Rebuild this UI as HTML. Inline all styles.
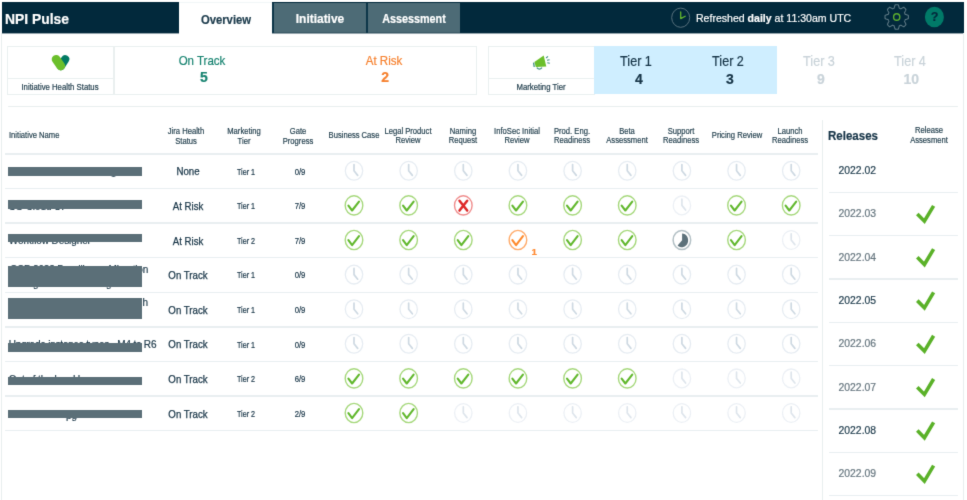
<!DOCTYPE html>
<html><head><meta charset="utf-8"><title>NPI Pulse</title>
<style>
html,body{margin:0;padding:0;background:#fff;}
body{width:967px;height:500px;position:relative;overflow:hidden;font-family:"Liberation Sans",sans-serif;color:#1e3a4a;-webkit-text-stroke-width:0.2px;}
.a{position:absolute;}
.t{position:absolute;white-space:nowrap;transform:translate(-50%,-50%);text-align:center;}
.tl{position:absolute;white-space:nowrap;transform:translate(0,-50%);transform-origin:left center;}
.ln{position:absolute;background:#e9eff1;}
.hd{font-size:8.4px;line-height:9.3px;color:#24414f;-webkit-text-stroke:0.18px #24414f;}
.t.hd{transform:translate(-50%,-50%) scaleX(.91);}
.tl.hd{transform:translate(0,-50%) scaleX(.91);}
.hd.w{line-height:10.5px;}
.hd.r{line-height:10px;}
.bar{position:absolute;background:#5b6f78;}
.nm{position:absolute;white-space:nowrap;font-size:10px;color:#223d4d;line-height:11px;letter-spacing:-0.1px;}
svg{position:absolute;overflow:visible;}
#w{position:absolute;left:0;top:0;width:967px;height:500px;filter:url(#bl);will-change:transform,opacity;opacity:.999;}
</style></head><body><svg width="0" height="0" style="position:absolute"><defs><filter id="bl" x="0" y="0" width="100%" height="100%" color-interpolation-filters="sRGB"><feConvolveMatrix order="3" kernelMatrix="0.0113 0.0838 0.0113 0.0838 0.6192 0.0838 0.0113 0.0838 0.0113" divisor="1" edgeMode="duplicate" preserveAlpha="false"/></filter></defs></svg><div id="w">

<div class="a" style="left:2px;top:2.2px;width:962px;height:31px;background:#02293c;"></div>
<div class="tl" style="left:5px;top:17.9px;font-size:15px;font-weight:bold;color:#fff;transform:translate(0,-50%) scaleX(.925);">NPI Pulse</div>
<div class="a" style="left:2px;top:33px;width:962px;height:1px;background:rgba(2,41,60,.42);"></div>
<div class="a" style="left:179px;top:0;width:93px;height:33.5px;background:#fff;"></div><div class="a" style="left:179px;top:1.8px;width:93px;height:1px;background:#f1f6f7;"></div>
<div class="t" style="left:225.5px;top:19.7px;font-size:12px;font-weight:bold;color:#1d3c4d;transform:translate(-50%,-50%) scaleX(.94);">Overview</div>
<div class="a" style="left:272px;top:2.5px;width:188px;height:30.5px;background:#4d6b76;"></div>
<div class="a" style="left:272px;top:31.8px;width:188px;height:1.2px;background:#3a5965;"></div>
<div class="a" style="left:272px;top:2.5px;width:1.6px;height:30.5px;background:#0d3649;"></div>
<div class="a" style="left:366px;top:2.5px;width:2px;height:30.5px;background:#0d3649;"></div>
<div class="t" style="left:320px;top:18.6px;font-size:12px;font-weight:bold;color:#fff;transform:translate(-50%,-50%) scaleX(.995);">Initiative</div>
<div class="t" style="left:413.8px;top:18.6px;font-size:12px;font-weight:bold;color:#fff;transform:translate(-50%,-50%) scaleX(.9);">Assessment</div>
<svg style="left:668px;top:5px" width="26" height="26" viewBox="0 0 26 26"><ellipse cx="12.7" cy="12.7" rx="9" ry="9.6" fill="none" stroke="#566f7b" stroke-width="1"/><path d="M12.7 6.9V13.6L17.2 11.2" fill="none" stroke="#62b52f" stroke-width="1.3" stroke-linecap="round" stroke-linejoin="round"/></svg>
<div class="tl" style="left:695.6px;top:17.3px;font-size:11.6px;color:#fff;transform:translate(0,-50%) scaleX(.91);">Refreshed <b>daily</b> at 11:30am UTC</div>
<svg style="left:0;top:0" width="967" height="40" viewBox="0 0 967 40"><path d="M896.70 4.71 L896.88 4.72 L897.07 4.72 L897.25 4.73 L897.43 4.74 L897.62 4.75 L897.80 4.77 L897.98 4.79 L898.17 4.81 L898.31 5.09 L898.45 5.40 L898.57 5.72 L898.69 6.05 L898.79 6.39 L898.89 6.72 L898.98 7.04 L899.06 7.36 L899.13 7.66 L899.21 7.94 L899.29 8.17 L899.42 8.21 L899.55 8.26 L899.68 8.31 L899.81 8.36 L899.94 8.41 L900.07 8.46 L900.19 8.52 L900.32 8.58 L900.45 8.64 L900.57 8.70 L900.70 8.77 L900.82 8.83 L901.03 8.73 L901.27 8.59 L901.53 8.43 L901.79 8.27 L902.08 8.11 L902.37 7.94 L902.67 7.78 L902.97 7.63 L903.27 7.50 L903.58 7.38 L903.87 7.29 L904.02 7.41 L904.16 7.53 L904.30 7.66 L904.44 7.78 L904.57 7.91 L904.71 8.04 L904.84 8.18 L904.97 8.31 L905.10 8.45 L905.23 8.59 L905.35 8.73 L905.48 8.88 L905.60 9.02 L905.72 9.17 L905.83 9.32 L905.94 9.47 L905.86 9.78 L905.75 10.10 L905.62 10.42 L905.48 10.74 L905.33 11.05 L905.17 11.36 L905.01 11.65 L904.86 11.93 L904.71 12.20 L904.58 12.45 L904.48 12.68 L904.54 12.81 L904.60 12.93 L904.66 13.07 L904.72 13.20 L904.78 13.33 L904.83 13.46 L904.88 13.60 L904.93 13.73 L904.98 13.87 L905.03 14.01 L905.07 14.14 L905.11 14.28 L905.33 14.37 L905.60 14.44 L905.88 14.52 L906.18 14.61 L906.49 14.70 L906.81 14.80 L907.13 14.91 L907.44 15.03 L907.75 15.16 L908.04 15.31 L908.31 15.46 L908.33 15.65 L908.35 15.84 L908.36 16.04 L908.38 16.23 L908.39 16.42 L908.39 16.61 L908.40 16.81 L908.40 17.00 L908.40 17.19 L908.39 17.39 L908.39 17.58 L908.38 17.77 L908.36 17.96 L908.35 18.16 L908.33 18.35 L908.31 18.54 L908.04 18.69 L907.75 18.84 L907.44 18.97 L907.13 19.09 L906.81 19.20 L906.49 19.30 L906.18 19.39 L905.88 19.48 L905.60 19.56 L905.33 19.63 L905.11 19.72 L905.07 19.86 L905.03 19.99 L904.98 20.13 L904.93 20.27 L904.88 20.40 L904.83 20.54 L904.78 20.67 L904.72 20.80 L904.66 20.93 L904.60 21.07 L904.54 21.19 L904.48 21.32 L904.58 21.55 L904.71 21.80 L904.86 22.07 L905.01 22.35 L905.17 22.64 L905.33 22.95 L905.48 23.26 L905.62 23.58 L905.75 23.90 L905.86 24.22 L905.94 24.53 L905.83 24.68 L905.72 24.83 L905.60 24.98 L905.48 25.12 L905.35 25.27 L905.23 25.41 L905.10 25.55 L904.97 25.69 L904.84 25.82 L904.71 25.96 L904.57 26.09 L904.44 26.22 L904.30 26.34 L904.16 26.47 L904.02 26.59 L903.87 26.71 L903.58 26.62 L903.27 26.50 L902.97 26.37 L902.67 26.22 L902.37 26.06 L902.08 25.89 L901.79 25.73 L901.53 25.57 L901.27 25.41 L901.03 25.27 L900.82 25.17 L900.70 25.23 L900.57 25.30 L900.45 25.36 L900.32 25.42 L900.19 25.48 L900.07 25.54 L899.94 25.59 L899.81 25.64 L899.68 25.69 L899.55 25.74 L899.42 25.79 L899.29 25.83 L899.21 26.06 L899.13 26.34 L899.06 26.64 L898.98 26.96 L898.89 27.28 L898.79 27.61 L898.69 27.95 L898.57 28.28 L898.45 28.60 L898.31 28.91 L898.17 29.19 L897.98 29.21 L897.80 29.23 L897.62 29.25 L897.43 29.26 L897.25 29.27 L897.07 29.28 L896.88 29.28 L896.70 29.29 L896.52 29.28 L896.33 29.28 L896.15 29.27 L895.97 29.26 L895.78 29.25 L895.60 29.23 L895.42 29.21 L895.23 29.19 L895.09 28.91 L894.95 28.60 L894.83 28.28 L894.71 27.95 L894.61 27.61 L894.51 27.28 L894.42 26.96 L894.34 26.64 L894.27 26.34 L894.19 26.06 L894.11 25.83 L893.98 25.79 L893.85 25.74 L893.72 25.69 L893.59 25.64 L893.46 25.59 L893.33 25.54 L893.21 25.48 L893.08 25.42 L892.95 25.36 L892.83 25.30 L892.70 25.23 L892.58 25.17 L892.37 25.27 L892.13 25.41 L891.87 25.57 L891.61 25.73 L891.32 25.89 L891.03 26.06 L890.73 26.22 L890.43 26.37 L890.13 26.50 L889.82 26.62 L889.53 26.71 L889.38 26.59 L889.24 26.47 L889.10 26.34 L888.96 26.22 L888.83 26.09 L888.69 25.96 L888.56 25.82 L888.43 25.69 L888.30 25.55 L888.17 25.41 L888.05 25.27 L887.92 25.12 L887.80 24.98 L887.68 24.83 L887.57 24.68 L887.46 24.53 L887.54 24.22 L887.65 23.90 L887.78 23.58 L887.92 23.26 L888.07 22.95 L888.23 22.64 L888.39 22.35 L888.54 22.07 L888.69 21.80 L888.82 21.55 L888.92 21.32 L888.86 21.19 L888.80 21.07 L888.74 20.93 L888.68 20.80 L888.62 20.67 L888.57 20.54 L888.52 20.40 L888.47 20.27 L888.42 20.13 L888.37 19.99 L888.33 19.86 L888.29 19.72 L888.07 19.63 L887.80 19.56 L887.52 19.48 L887.22 19.39 L886.91 19.30 L886.59 19.20 L886.27 19.09 L885.96 18.97 L885.65 18.84 L885.36 18.69 L885.09 18.54 L885.07 18.35 L885.05 18.16 L885.04 17.96 L885.02 17.77 L885.01 17.58 L885.01 17.39 L885.00 17.19 L885.00 17.00 L885.00 16.81 L885.01 16.61 L885.01 16.42 L885.02 16.23 L885.04 16.04 L885.05 15.84 L885.07 15.65 L885.09 15.46 L885.36 15.31 L885.65 15.16 L885.96 15.03 L886.27 14.91 L886.59 14.80 L886.91 14.70 L887.22 14.61 L887.52 14.52 L887.80 14.44 L888.07 14.37 L888.29 14.28 L888.33 14.14 L888.37 14.01 L888.42 13.87 L888.47 13.73 L888.52 13.60 L888.57 13.46 L888.62 13.33 L888.68 13.20 L888.74 13.07 L888.80 12.93 L888.86 12.81 L888.92 12.68 L888.82 12.45 L888.69 12.20 L888.54 11.93 L888.39 11.65 L888.23 11.36 L888.07 11.05 L887.92 10.74 L887.78 10.42 L887.65 10.10 L887.54 9.78 L887.46 9.47 L887.57 9.32 L887.68 9.17 L887.80 9.02 L887.92 8.88 L888.05 8.73 L888.17 8.59 L888.30 8.45 L888.43 8.31 L888.56 8.18 L888.69 8.04 L888.83 7.91 L888.96 7.78 L889.10 7.66 L889.24 7.53 L889.38 7.41 L889.53 7.29 L889.82 7.38 L890.13 7.50 L890.43 7.63 L890.73 7.78 L891.03 7.94 L891.32 8.11 L891.61 8.27 L891.87 8.43 L892.13 8.59 L892.37 8.73 L892.58 8.83 L892.70 8.77 L892.83 8.70 L892.95 8.64 L893.08 8.58 L893.21 8.52 L893.33 8.46 L893.46 8.41 L893.59 8.36 L893.72 8.31 L893.85 8.26 L893.98 8.21 L894.11 8.17 L894.19 7.94 L894.27 7.66 L894.34 7.36 L894.42 7.04 L894.51 6.72 L894.61 6.39 L894.71 6.05 L894.83 5.72 L894.95 5.40 L895.09 5.09 L895.23 4.81 L895.42 4.79 L895.60 4.77 L895.78 4.75 L895.97 4.74 L896.15 4.73 L896.33 4.72 L896.52 4.72 L896.70 4.71Z" fill="none" stroke="#5d7884" stroke-width="1.1" stroke-linejoin="round"/><ellipse cx="896.7" cy="17.0" rx="3.1" ry="3.3" fill="none" stroke="#5cae2e" stroke-width="1.4"/><ellipse cx="934.4" cy="17.0" rx="9.5" ry="10.3" fill="#017a68"/></svg>
<div class="t" style="left:934.5px;top:17.4px;font-size:12.5px;font-weight:bold;color:#02293c;">?</div>
<div class="ln" style="left:1px;top:33px;width:1.2px;height:467px;background:#e9efef;"></div>
<div class="ln" style="left:963px;top:33px;width:1.2px;height:467px;background:#e9efef;"></div>
<div class="a" style="left:7.2px;top:45.8px;width:470.2px;height:48.8px;border:1.2px solid #eaf0f0;box-sizing:border-box;"></div>
<div class="ln" style="left:113.4px;top:46px;width:1.2px;height:48px;background:#eaf0f0;"></div>
<div class="ln" style="left:7.5px;top:78.2px;width:106px;height:1.2px;background:#eaf0f0;"></div>
<div class="a" style="left:488px;top:45.8px;width:107px;height:48.8px;border:1.2px solid #eaf0f0;box-sizing:border-box;"></div>
<div class="ln" style="left:488.3px;top:78.2px;width:106px;height:1.2px;background:#eaf0f0;"></div>
<div class="a" style="left:594.2px;top:45.8px;width:182.6px;height:48.6px;background:#cfeeff;"></div>
<svg style="left:0;top:0" width="967" height="110" viewBox="0 0 967 110"><path d="M65.2 59.2L60.9 66" stroke="#017a64" stroke-width="8.2" stroke-linecap="round" fill="none"/><path d="M56.1 59.3L60.8 66" stroke="#6bbf2b" stroke-width="8.8" stroke-linecap="round" fill="none"/><path d="M534.4 62L543.7 55.5L546.3 66.6L535.8 66.9Z" fill="#6bbf2b"/><path d="M533.6 62.6L534.2 67" stroke="#3d8f80" stroke-width="1.3" fill="none"/><path d="M536.8 67.6Q539.4 70.6 542 67.6" stroke="#3d8f80" stroke-width="1.3" fill="none"/><path d="M546.1 58L548 56.4M547 60.3L549.6 59.8M547.3 62.7L549.8 63.3" stroke="#3d8f80" stroke-width="1.1" fill="none"/></svg>
<div class="t" style="left:60.4px;top:86.5px;font-size:8.4px;color:#24404f;transform:translate(-50%,-50%) scaleX(.925);">Initiative Health Status</div>
<div class="t" style="left:541.4px;top:86.5px;font-size:8.4px;color:#24404f;transform:translate(-50%,-50%) scaleX(.925);">Marketing Tier</div>
<div class="t" style="left:201.6px;top:59.6px;font-size:12.8px;color:#178370;transform:translate(-50%,-50%) scaleX(0.9);">On Track</div>
<div class="t" style="left:204px;top:76.9px;font-size:14px;font-weight:bold;color:#178370;">5</div>
<div class="t" style="left:384px;top:59.6px;font-size:12.8px;color:#f6812f;transform:translate(-50%,-50%) scaleX(0.9);">At Risk</div>
<div class="t" style="left:385.2px;top:76.9px;font-size:14px;font-weight:bold;color:#f6812f;">2</div>
<div class="t" style="left:636.3px;top:60.9px;font-size:14px;color:#163447;transform:translate(-50%,-50%) scaleX(0.9);">Tier 1</div>
<div class="t" style="left:639px;top:78.9px;font-size:14px;font-weight:bold;color:#163447;">4</div>
<div class="t" style="left:728.3px;top:60.9px;font-size:14px;color:#163447;transform:translate(-50%,-50%) scaleX(0.9);">Tier 2</div>
<div class="t" style="left:730px;top:78.9px;font-size:14px;font-weight:bold;color:#163447;">3</div>
<div class="t" style="left:818.9px;top:60.9px;font-size:14px;color:#c9d3d9;transform:translate(-50%,-50%) scaleX(0.9);">Tier 3</div>
<div class="t" style="left:820.8px;top:78.9px;font-size:14px;font-weight:bold;color:#c9d3d9;">9</div>
<div class="t" style="left:909.9px;top:60.9px;font-size:14px;color:#c9d3d9;transform:translate(-50%,-50%) scaleX(0.9);">Tier 4</div>
<div class="t" style="left:911.2px;top:78.9px;font-size:14px;font-weight:bold;color:#c9d3d9;">10</div>
<div class="ln" style="left:7.6px;top:106px;width:950.4px;height:1.3px;background:#e9efef;"></div>
<div class="tl hd" style="left:8.8px;top:136.1px;">Initiative Name</div>
<div class="t hd w" style="left:186px;top:135.7px;">Jira Health<br>Status</div>
<div class="t hd w" style="left:244px;top:135.7px;">Marketing<br>Tier</div>
<div class="t hd w" style="left:298px;top:135.7px;">Gate<br>Progress</div>
<div class="t hd" style="left:353.8px;top:135.7px;">Business Case</div>
<div class="t hd" style="left:408.2px;top:135.7px;">Legal Product<br>Review</div>
<div class="t hd" style="left:462.7px;top:135.7px;">Naming<br>Request</div>
<div class="t hd" style="left:517px;top:135.7px;">InfoSec Initial<br>Review</div>
<div class="t hd" style="left:572px;top:135.7px;">Prod. Eng.<br>Readiness</div>
<div class="t hd" style="left:627px;top:135.7px;">Beta<br>Assessment</div>
<div class="t hd" style="left:681.2px;top:135.7px;">Support<br>Readiness</div>
<div class="t hd" style="left:736.6px;top:135.7px;">Pricing Review</div>
<div class="t hd" style="left:790.2px;top:135.7px;">Launch<br>Readiness</div>
<div class="t hd r" style="left:929.3px;top:134.7px;">Release<br>Assesment</div>
<div class="ln" style="left:5px;top:153.15px;width:813px;height:1.5px;"></div>
<div class="ln" style="left:5px;top:187.75px;width:813px;height:1.5px;"></div>
<div class="ln" style="left:5px;top:222.35px;width:813px;height:1.5px;"></div>
<div class="ln" style="left:5px;top:256.95px;width:813px;height:1.5px;"></div>
<div class="ln" style="left:5px;top:291.55px;width:813px;height:1.5px;"></div>
<div class="ln" style="left:5px;top:326.15px;width:813px;height:1.5px;"></div>
<div class="ln" style="left:5px;top:360.75px;width:813px;height:1.5px;"></div>
<div class="ln" style="left:5px;top:395.35px;width:813px;height:1.5px;"></div>
<div class="ln" style="left:5px;top:429.95px;width:813px;height:1.5px;"></div>
<svg style="left:0;top:0" width="967" height="500" viewBox="0 0 967 500">
<g transform="translate(354.0 170.80)"><ellipse cx="0" cy="0" rx="8.7" ry="9.4" fill="none" stroke="#e6ecf2" stroke-width="1.3"/><path d="M0 -6.2V0L3.7 4.6" fill="none" stroke="#ced9e2" stroke-width="1.7" stroke-linecap="round" stroke-linejoin="round"/></g>
<g transform="translate(408.65 170.80)"><ellipse cx="0" cy="0" rx="8.7" ry="9.4" fill="none" stroke="#e6ecf2" stroke-width="1.3"/><path d="M0 -6.2V0L3.7 4.6" fill="none" stroke="#ced9e2" stroke-width="1.7" stroke-linecap="round" stroke-linejoin="round"/></g>
<g transform="translate(463.3 170.80)"><ellipse cx="0" cy="0" rx="8.7" ry="9.4" fill="none" stroke="#e6ecf2" stroke-width="1.3"/><path d="M0 -6.2V0L3.7 4.6" fill="none" stroke="#ced9e2" stroke-width="1.7" stroke-linecap="round" stroke-linejoin="round"/></g>
<g transform="translate(517.95 170.80)"><ellipse cx="0" cy="0" rx="8.7" ry="9.4" fill="none" stroke="#e6ecf2" stroke-width="1.3"/><path d="M0 -6.2V0L3.7 4.6" fill="none" stroke="#ced9e2" stroke-width="1.7" stroke-linecap="round" stroke-linejoin="round"/></g>
<g transform="translate(572.6 170.80)"><ellipse cx="0" cy="0" rx="8.7" ry="9.4" fill="none" stroke="#e6ecf2" stroke-width="1.3"/><path d="M0 -6.2V0L3.7 4.6" fill="none" stroke="#ced9e2" stroke-width="1.7" stroke-linecap="round" stroke-linejoin="round"/></g>
<g transform="translate(627.25 170.80)"><ellipse cx="0" cy="0" rx="8.7" ry="9.4" fill="none" stroke="#e6ecf2" stroke-width="1.3"/><path d="M0 -6.2V0L3.7 4.6" fill="none" stroke="#ced9e2" stroke-width="1.7" stroke-linecap="round" stroke-linejoin="round"/></g>
<g transform="translate(681.9 170.80)"><ellipse cx="0" cy="0" rx="8.7" ry="9.4" fill="none" stroke="#e6ecf2" stroke-width="1.3"/><path d="M0 -6.2V0L3.7 4.6" fill="none" stroke="#ced9e2" stroke-width="1.7" stroke-linecap="round" stroke-linejoin="round"/></g>
<g transform="translate(736.55 170.80)"><ellipse cx="0" cy="0" rx="8.7" ry="9.4" fill="none" stroke="#e6ecf2" stroke-width="1.3"/><path d="M0 -6.2V0L3.7 4.6" fill="none" stroke="#ced9e2" stroke-width="1.7" stroke-linecap="round" stroke-linejoin="round"/></g>
<g transform="translate(791.2 170.80)"><ellipse cx="0" cy="0" rx="8.7" ry="9.4" fill="none" stroke="#e6ecf2" stroke-width="1.3"/><path d="M0 -6.2V0L3.7 4.6" fill="none" stroke="#ced9e2" stroke-width="1.7" stroke-linecap="round" stroke-linejoin="round"/></g>
<g transform="translate(354.0 205.40)"><ellipse cx="0" cy="0" rx="8.8" ry="9.6" fill="none" stroke="#a6d87c" stroke-width="1.4"/><path d="M-5.6 0.2L-1.9 5.1L5 -3.8" fill="none" stroke="#62b82e" stroke-width="2.1" stroke-linecap="round" stroke-linejoin="round"/></g>
<g transform="translate(408.65 205.40)"><ellipse cx="0" cy="0" rx="8.8" ry="9.6" fill="none" stroke="#a6d87c" stroke-width="1.4"/><path d="M-5.6 0.2L-1.9 5.1L5 -3.8" fill="none" stroke="#62b82e" stroke-width="2.1" stroke-linecap="round" stroke-linejoin="round"/></g>
<g transform="translate(463.3 205.40)"><ellipse cx="0" cy="0" rx="8.8" ry="9.6" fill="none" stroke="#ef8d8d" stroke-width="1.4"/><path d="M-3.8 -4.7L3.9 5.2M3.9 -4.7L-3.8 5.2" fill="none" stroke="#de2a2a" stroke-width="2.5" stroke-linecap="round"/></g>
<g transform="translate(517.95 205.40)"><ellipse cx="0" cy="0" rx="8.8" ry="9.6" fill="none" stroke="#a6d87c" stroke-width="1.4"/><path d="M-5.6 0.2L-1.9 5.1L5 -3.8" fill="none" stroke="#62b82e" stroke-width="2.1" stroke-linecap="round" stroke-linejoin="round"/></g>
<g transform="translate(572.6 205.40)"><ellipse cx="0" cy="0" rx="8.8" ry="9.6" fill="none" stroke="#a6d87c" stroke-width="1.4"/><path d="M-5.6 0.2L-1.9 5.1L5 -3.8" fill="none" stroke="#62b82e" stroke-width="2.1" stroke-linecap="round" stroke-linejoin="round"/></g>
<g transform="translate(627.25 205.40)"><ellipse cx="0" cy="0" rx="8.8" ry="9.6" fill="none" stroke="#a6d87c" stroke-width="1.4"/><path d="M-5.6 0.2L-1.9 5.1L5 -3.8" fill="none" stroke="#62b82e" stroke-width="2.1" stroke-linecap="round" stroke-linejoin="round"/></g>
<g transform="translate(681.9 205.40)"><ellipse cx="0" cy="0" rx="8.7" ry="9.4" fill="none" stroke="#ecf0f5" stroke-width="1.3"/><path d="M0 -6.2V0L3.7 4.6" fill="none" stroke="#dee5ec" stroke-width="1.7" stroke-linecap="round" stroke-linejoin="round"/></g>
<g transform="translate(736.55 205.40)"><ellipse cx="0" cy="0" rx="8.8" ry="9.6" fill="none" stroke="#a6d87c" stroke-width="1.4"/><path d="M-5.6 0.2L-1.9 5.1L5 -3.8" fill="none" stroke="#62b82e" stroke-width="2.1" stroke-linecap="round" stroke-linejoin="round"/></g>
<g transform="translate(791.2 205.40)"><ellipse cx="0" cy="0" rx="8.8" ry="9.6" fill="none" stroke="#a6d87c" stroke-width="1.4"/><path d="M-5.6 0.2L-1.9 5.1L5 -3.8" fill="none" stroke="#62b82e" stroke-width="2.1" stroke-linecap="round" stroke-linejoin="round"/></g>
<g transform="translate(354.0 240.00)"><ellipse cx="0" cy="0" rx="8.8" ry="9.6" fill="none" stroke="#a6d87c" stroke-width="1.4"/><path d="M-5.6 0.2L-1.9 5.1L5 -3.8" fill="none" stroke="#62b82e" stroke-width="2.1" stroke-linecap="round" stroke-linejoin="round"/></g>
<g transform="translate(408.65 240.00)"><ellipse cx="0" cy="0" rx="8.8" ry="9.6" fill="none" stroke="#a6d87c" stroke-width="1.4"/><path d="M-5.6 0.2L-1.9 5.1L5 -3.8" fill="none" stroke="#62b82e" stroke-width="2.1" stroke-linecap="round" stroke-linejoin="round"/></g>
<g transform="translate(463.3 240.00)"><ellipse cx="0" cy="0" rx="8.8" ry="9.6" fill="none" stroke="#a6d87c" stroke-width="1.4"/><path d="M-5.6 0.2L-1.9 5.1L5 -3.8" fill="none" stroke="#62b82e" stroke-width="2.1" stroke-linecap="round" stroke-linejoin="round"/></g>
<g transform="translate(517.95 240.00)"><ellipse cx="0" cy="0" rx="8.8" ry="9.6" fill="none" stroke="#ffab6b" stroke-width="1.4"/><path d="M-5.6 0.2L-1.9 5.1L5 -3.8" fill="none" stroke="#ff8a2c" stroke-width="2.1" stroke-linecap="round" stroke-linejoin="round"/></g>
<g transform="translate(572.6 240.00)"><ellipse cx="0" cy="0" rx="8.8" ry="9.6" fill="none" stroke="#a6d87c" stroke-width="1.4"/><path d="M-5.6 0.2L-1.9 5.1L5 -3.8" fill="none" stroke="#62b82e" stroke-width="2.1" stroke-linecap="round" stroke-linejoin="round"/></g>
<g transform="translate(627.25 240.00)"><ellipse cx="0" cy="0" rx="8.8" ry="9.6" fill="none" stroke="#a6d87c" stroke-width="1.4"/><path d="M-5.6 0.2L-1.9 5.1L5 -3.8" fill="none" stroke="#62b82e" stroke-width="2.1" stroke-linecap="round" stroke-linejoin="round"/></g>
<g transform="translate(681.9 240.00)"><ellipse cx="0" cy="0" rx="8.8" ry="9.6" fill="none" stroke="#b3c0c5" stroke-width="1.5"/><path d="M0.2 0.3V-6.6A6.3 6.9 0 1 1 -4.3 5.4Z" fill="#5c717a"/></g>
<g transform="translate(736.55 240.00)"><ellipse cx="0" cy="0" rx="8.8" ry="9.6" fill="none" stroke="#a6d87c" stroke-width="1.4"/><path d="M-5.6 0.2L-1.9 5.1L5 -3.8" fill="none" stroke="#62b82e" stroke-width="2.1" stroke-linecap="round" stroke-linejoin="round"/></g>
<g transform="translate(791.2 240.00)"><ellipse cx="0" cy="0" rx="8.7" ry="9.4" fill="none" stroke="#ecf0f5" stroke-width="1.3"/><path d="M0 -6.2V0L3.7 4.6" fill="none" stroke="#dee5ec" stroke-width="1.7" stroke-linecap="round" stroke-linejoin="round"/></g>
<g transform="translate(354.0 274.60)"><ellipse cx="0" cy="0" rx="8.7" ry="9.4" fill="none" stroke="#e6ecf2" stroke-width="1.3"/><path d="M0 -6.2V0L3.7 4.6" fill="none" stroke="#ced9e2" stroke-width="1.7" stroke-linecap="round" stroke-linejoin="round"/></g>
<g transform="translate(408.65 274.60)"><ellipse cx="0" cy="0" rx="8.7" ry="9.4" fill="none" stroke="#e6ecf2" stroke-width="1.3"/><path d="M0 -6.2V0L3.7 4.6" fill="none" stroke="#ced9e2" stroke-width="1.7" stroke-linecap="round" stroke-linejoin="round"/></g>
<g transform="translate(463.3 274.60)"><ellipse cx="0" cy="0" rx="8.7" ry="9.4" fill="none" stroke="#e6ecf2" stroke-width="1.3"/><path d="M0 -6.2V0L3.7 4.6" fill="none" stroke="#ced9e2" stroke-width="1.7" stroke-linecap="round" stroke-linejoin="round"/></g>
<g transform="translate(517.95 274.60)"><ellipse cx="0" cy="0" rx="8.7" ry="9.4" fill="none" stroke="#e6ecf2" stroke-width="1.3"/><path d="M0 -6.2V0L3.7 4.6" fill="none" stroke="#ced9e2" stroke-width="1.7" stroke-linecap="round" stroke-linejoin="round"/></g>
<g transform="translate(572.6 274.60)"><ellipse cx="0" cy="0" rx="8.7" ry="9.4" fill="none" stroke="#e6ecf2" stroke-width="1.3"/><path d="M0 -6.2V0L3.7 4.6" fill="none" stroke="#ced9e2" stroke-width="1.7" stroke-linecap="round" stroke-linejoin="round"/></g>
<g transform="translate(627.25 274.60)"><ellipse cx="0" cy="0" rx="8.7" ry="9.4" fill="none" stroke="#e6ecf2" stroke-width="1.3"/><path d="M0 -6.2V0L3.7 4.6" fill="none" stroke="#ced9e2" stroke-width="1.7" stroke-linecap="round" stroke-linejoin="round"/></g>
<g transform="translate(681.9 274.60)"><ellipse cx="0" cy="0" rx="8.7" ry="9.4" fill="none" stroke="#e6ecf2" stroke-width="1.3"/><path d="M0 -6.2V0L3.7 4.6" fill="none" stroke="#ced9e2" stroke-width="1.7" stroke-linecap="round" stroke-linejoin="round"/></g>
<g transform="translate(736.55 274.60)"><ellipse cx="0" cy="0" rx="8.7" ry="9.4" fill="none" stroke="#e6ecf2" stroke-width="1.3"/><path d="M0 -6.2V0L3.7 4.6" fill="none" stroke="#ced9e2" stroke-width="1.7" stroke-linecap="round" stroke-linejoin="round"/></g>
<g transform="translate(791.2 274.60)"><ellipse cx="0" cy="0" rx="8.7" ry="9.4" fill="none" stroke="#e6ecf2" stroke-width="1.3"/><path d="M0 -6.2V0L3.7 4.6" fill="none" stroke="#ced9e2" stroke-width="1.7" stroke-linecap="round" stroke-linejoin="round"/></g>
<g transform="translate(354.0 309.20)"><ellipse cx="0" cy="0" rx="8.7" ry="9.4" fill="none" stroke="#e6ecf2" stroke-width="1.3"/><path d="M0 -6.2V0L3.7 4.6" fill="none" stroke="#ced9e2" stroke-width="1.7" stroke-linecap="round" stroke-linejoin="round"/></g>
<g transform="translate(408.65 309.20)"><ellipse cx="0" cy="0" rx="8.7" ry="9.4" fill="none" stroke="#e6ecf2" stroke-width="1.3"/><path d="M0 -6.2V0L3.7 4.6" fill="none" stroke="#ced9e2" stroke-width="1.7" stroke-linecap="round" stroke-linejoin="round"/></g>
<g transform="translate(463.3 309.20)"><ellipse cx="0" cy="0" rx="8.7" ry="9.4" fill="none" stroke="#e6ecf2" stroke-width="1.3"/><path d="M0 -6.2V0L3.7 4.6" fill="none" stroke="#ced9e2" stroke-width="1.7" stroke-linecap="round" stroke-linejoin="round"/></g>
<g transform="translate(517.95 309.20)"><ellipse cx="0" cy="0" rx="8.7" ry="9.4" fill="none" stroke="#e6ecf2" stroke-width="1.3"/><path d="M0 -6.2V0L3.7 4.6" fill="none" stroke="#ced9e2" stroke-width="1.7" stroke-linecap="round" stroke-linejoin="round"/></g>
<g transform="translate(572.6 309.20)"><ellipse cx="0" cy="0" rx="8.7" ry="9.4" fill="none" stroke="#e6ecf2" stroke-width="1.3"/><path d="M0 -6.2V0L3.7 4.6" fill="none" stroke="#ced9e2" stroke-width="1.7" stroke-linecap="round" stroke-linejoin="round"/></g>
<g transform="translate(627.25 309.20)"><ellipse cx="0" cy="0" rx="8.7" ry="9.4" fill="none" stroke="#e6ecf2" stroke-width="1.3"/><path d="M0 -6.2V0L3.7 4.6" fill="none" stroke="#ced9e2" stroke-width="1.7" stroke-linecap="round" stroke-linejoin="round"/></g>
<g transform="translate(681.9 309.20)"><ellipse cx="0" cy="0" rx="8.7" ry="9.4" fill="none" stroke="#e6ecf2" stroke-width="1.3"/><path d="M0 -6.2V0L3.7 4.6" fill="none" stroke="#ced9e2" stroke-width="1.7" stroke-linecap="round" stroke-linejoin="round"/></g>
<g transform="translate(736.55 309.20)"><ellipse cx="0" cy="0" rx="8.7" ry="9.4" fill="none" stroke="#e6ecf2" stroke-width="1.3"/><path d="M0 -6.2V0L3.7 4.6" fill="none" stroke="#ced9e2" stroke-width="1.7" stroke-linecap="round" stroke-linejoin="round"/></g>
<g transform="translate(791.2 309.20)"><ellipse cx="0" cy="0" rx="8.7" ry="9.4" fill="none" stroke="#e6ecf2" stroke-width="1.3"/><path d="M0 -6.2V0L3.7 4.6" fill="none" stroke="#ced9e2" stroke-width="1.7" stroke-linecap="round" stroke-linejoin="round"/></g>
<g transform="translate(354.0 343.80)"><ellipse cx="0" cy="0" rx="8.7" ry="9.4" fill="none" stroke="#e6ecf2" stroke-width="1.3"/><path d="M0 -6.2V0L3.7 4.6" fill="none" stroke="#ced9e2" stroke-width="1.7" stroke-linecap="round" stroke-linejoin="round"/></g>
<g transform="translate(408.65 343.80)"><ellipse cx="0" cy="0" rx="8.7" ry="9.4" fill="none" stroke="#e6ecf2" stroke-width="1.3"/><path d="M0 -6.2V0L3.7 4.6" fill="none" stroke="#ced9e2" stroke-width="1.7" stroke-linecap="round" stroke-linejoin="round"/></g>
<g transform="translate(463.3 343.80)"><ellipse cx="0" cy="0" rx="8.7" ry="9.4" fill="none" stroke="#e6ecf2" stroke-width="1.3"/><path d="M0 -6.2V0L3.7 4.6" fill="none" stroke="#ced9e2" stroke-width="1.7" stroke-linecap="round" stroke-linejoin="round"/></g>
<g transform="translate(517.95 343.80)"><ellipse cx="0" cy="0" rx="8.7" ry="9.4" fill="none" stroke="#e6ecf2" stroke-width="1.3"/><path d="M0 -6.2V0L3.7 4.6" fill="none" stroke="#ced9e2" stroke-width="1.7" stroke-linecap="round" stroke-linejoin="round"/></g>
<g transform="translate(572.6 343.80)"><ellipse cx="0" cy="0" rx="8.7" ry="9.4" fill="none" stroke="#e6ecf2" stroke-width="1.3"/><path d="M0 -6.2V0L3.7 4.6" fill="none" stroke="#ced9e2" stroke-width="1.7" stroke-linecap="round" stroke-linejoin="round"/></g>
<g transform="translate(627.25 343.80)"><ellipse cx="0" cy="0" rx="8.7" ry="9.4" fill="none" stroke="#e6ecf2" stroke-width="1.3"/><path d="M0 -6.2V0L3.7 4.6" fill="none" stroke="#ced9e2" stroke-width="1.7" stroke-linecap="round" stroke-linejoin="round"/></g>
<g transform="translate(681.9 343.80)"><ellipse cx="0" cy="0" rx="8.7" ry="9.4" fill="none" stroke="#e6ecf2" stroke-width="1.3"/><path d="M0 -6.2V0L3.7 4.6" fill="none" stroke="#ced9e2" stroke-width="1.7" stroke-linecap="round" stroke-linejoin="round"/></g>
<g transform="translate(736.55 343.80)"><ellipse cx="0" cy="0" rx="8.7" ry="9.4" fill="none" stroke="#e6ecf2" stroke-width="1.3"/><path d="M0 -6.2V0L3.7 4.6" fill="none" stroke="#ced9e2" stroke-width="1.7" stroke-linecap="round" stroke-linejoin="round"/></g>
<g transform="translate(791.2 343.80)"><ellipse cx="0" cy="0" rx="8.7" ry="9.4" fill="none" stroke="#e6ecf2" stroke-width="1.3"/><path d="M0 -6.2V0L3.7 4.6" fill="none" stroke="#ced9e2" stroke-width="1.7" stroke-linecap="round" stroke-linejoin="round"/></g>
<g transform="translate(354.0 378.40)"><ellipse cx="0" cy="0" rx="8.8" ry="9.6" fill="none" stroke="#a6d87c" stroke-width="1.4"/><path d="M-5.6 0.2L-1.9 5.1L5 -3.8" fill="none" stroke="#62b82e" stroke-width="2.1" stroke-linecap="round" stroke-linejoin="round"/></g>
<g transform="translate(408.65 378.40)"><ellipse cx="0" cy="0" rx="8.8" ry="9.6" fill="none" stroke="#a6d87c" stroke-width="1.4"/><path d="M-5.6 0.2L-1.9 5.1L5 -3.8" fill="none" stroke="#62b82e" stroke-width="2.1" stroke-linecap="round" stroke-linejoin="round"/></g>
<g transform="translate(463.3 378.40)"><ellipse cx="0" cy="0" rx="8.8" ry="9.6" fill="none" stroke="#a6d87c" stroke-width="1.4"/><path d="M-5.6 0.2L-1.9 5.1L5 -3.8" fill="none" stroke="#62b82e" stroke-width="2.1" stroke-linecap="round" stroke-linejoin="round"/></g>
<g transform="translate(517.95 378.40)"><ellipse cx="0" cy="0" rx="8.8" ry="9.6" fill="none" stroke="#a6d87c" stroke-width="1.4"/><path d="M-5.6 0.2L-1.9 5.1L5 -3.8" fill="none" stroke="#62b82e" stroke-width="2.1" stroke-linecap="round" stroke-linejoin="round"/></g>
<g transform="translate(572.6 378.40)"><ellipse cx="0" cy="0" rx="8.8" ry="9.6" fill="none" stroke="#a6d87c" stroke-width="1.4"/><path d="M-5.6 0.2L-1.9 5.1L5 -3.8" fill="none" stroke="#62b82e" stroke-width="2.1" stroke-linecap="round" stroke-linejoin="round"/></g>
<g transform="translate(627.25 378.40)"><ellipse cx="0" cy="0" rx="8.8" ry="9.6" fill="none" stroke="#a6d87c" stroke-width="1.4"/><path d="M-5.6 0.2L-1.9 5.1L5 -3.8" fill="none" stroke="#62b82e" stroke-width="2.1" stroke-linecap="round" stroke-linejoin="round"/></g>
<g transform="translate(681.9 378.40)"><ellipse cx="0" cy="0" rx="8.7" ry="9.4" fill="none" stroke="#ecf0f5" stroke-width="1.3"/><path d="M0 -6.2V0L3.7 4.6" fill="none" stroke="#dee5ec" stroke-width="1.7" stroke-linecap="round" stroke-linejoin="round"/></g>
<g transform="translate(736.55 378.40)"><ellipse cx="0" cy="0" rx="8.7" ry="9.4" fill="none" stroke="#ecf0f5" stroke-width="1.3"/><path d="M0 -6.2V0L3.7 4.6" fill="none" stroke="#dee5ec" stroke-width="1.7" stroke-linecap="round" stroke-linejoin="round"/></g>
<g transform="translate(791.2 378.40)"><ellipse cx="0" cy="0" rx="8.7" ry="9.4" fill="none" stroke="#ecf0f5" stroke-width="1.3"/><path d="M0 -6.2V0L3.7 4.6" fill="none" stroke="#dee5ec" stroke-width="1.7" stroke-linecap="round" stroke-linejoin="round"/></g>
<g transform="translate(354.0 413.00)"><ellipse cx="0" cy="0" rx="8.8" ry="9.6" fill="none" stroke="#a6d87c" stroke-width="1.4"/><path d="M-5.6 0.2L-1.9 5.1L5 -3.8" fill="none" stroke="#62b82e" stroke-width="2.1" stroke-linecap="round" stroke-linejoin="round"/></g>
<g transform="translate(408.65 413.00)"><ellipse cx="0" cy="0" rx="8.8" ry="9.6" fill="none" stroke="#a6d87c" stroke-width="1.4"/><path d="M-5.6 0.2L-1.9 5.1L5 -3.8" fill="none" stroke="#62b82e" stroke-width="2.1" stroke-linecap="round" stroke-linejoin="round"/></g>
<g transform="translate(463.3 413.00)"><ellipse cx="0" cy="0" rx="8.7" ry="9.4" fill="none" stroke="#ecf0f5" stroke-width="1.3"/><path d="M0 -6.2V0L3.7 4.6" fill="none" stroke="#dee5ec" stroke-width="1.7" stroke-linecap="round" stroke-linejoin="round"/></g>
<g transform="translate(517.95 413.00)"><ellipse cx="0" cy="0" rx="8.7" ry="9.4" fill="none" stroke="#ecf0f5" stroke-width="1.3"/><path d="M0 -6.2V0L3.7 4.6" fill="none" stroke="#dee5ec" stroke-width="1.7" stroke-linecap="round" stroke-linejoin="round"/></g>
<g transform="translate(572.6 413.00)"><ellipse cx="0" cy="0" rx="8.7" ry="9.4" fill="none" stroke="#ecf0f5" stroke-width="1.3"/><path d="M0 -6.2V0L3.7 4.6" fill="none" stroke="#dee5ec" stroke-width="1.7" stroke-linecap="round" stroke-linejoin="round"/></g>
<g transform="translate(627.25 413.00)"><ellipse cx="0" cy="0" rx="8.7" ry="9.4" fill="none" stroke="#ecf0f5" stroke-width="1.3"/><path d="M0 -6.2V0L3.7 4.6" fill="none" stroke="#dee5ec" stroke-width="1.7" stroke-linecap="round" stroke-linejoin="round"/></g>
<g transform="translate(681.9 413.00)"><ellipse cx="0" cy="0" rx="8.7" ry="9.4" fill="none" stroke="#ecf0f5" stroke-width="1.3"/><path d="M0 -6.2V0L3.7 4.6" fill="none" stroke="#dee5ec" stroke-width="1.7" stroke-linecap="round" stroke-linejoin="round"/></g>
<g transform="translate(736.55 413.00)"><ellipse cx="0" cy="0" rx="8.7" ry="9.4" fill="none" stroke="#ecf0f5" stroke-width="1.3"/><path d="M0 -6.2V0L3.7 4.6" fill="none" stroke="#dee5ec" stroke-width="1.7" stroke-linecap="round" stroke-linejoin="round"/></g>
<g transform="translate(791.2 413.00)"><ellipse cx="0" cy="0" rx="8.7" ry="9.4" fill="none" stroke="#ecf0f5" stroke-width="1.3"/><path d="M0 -6.2V0L3.7 4.6" fill="none" stroke="#dee5ec" stroke-width="1.7" stroke-linecap="round" stroke-linejoin="round"/></g>
<path d="M917.3 214.00L924.4 221.20L933.6 205.80" fill="none" stroke="#5ab128" stroke-width="3.6" stroke-linejoin="miter"/>
<path d="M917.3 257.31L924.4 264.51L933.6 249.11" fill="none" stroke="#5ab128" stroke-width="3.6" stroke-linejoin="miter"/>
<path d="M917.3 300.62L924.4 307.82L933.6 292.42" fill="none" stroke="#5ab128" stroke-width="3.6" stroke-linejoin="miter"/>
<path d="M917.3 343.93L924.4 351.13L933.6 335.73" fill="none" stroke="#5ab128" stroke-width="3.6" stroke-linejoin="miter"/>
<path d="M917.3 387.24L924.4 394.44L933.6 379.04" fill="none" stroke="#5ab128" stroke-width="3.6" stroke-linejoin="miter"/>
<path d="M917.3 430.55L924.4 437.75L933.6 422.35" fill="none" stroke="#5ab128" stroke-width="3.6" stroke-linejoin="miter"/>
<path d="M917.3 473.86L924.4 481.06L933.6 465.66" fill="none" stroke="#5ab128" stroke-width="3.6" stroke-linejoin="miter"/>
</svg>
<div class="t" style="left:188.3px;top:171.40px;font-size:10.2px;color:#183547;-webkit-text-stroke:0.25px #183547;transform:translate(-50%,-50%) scaleX(.95);">None</div>
<div class="t" style="left:246px;top:171.65px;font-size:8.4px;color:#183547;-webkit-text-stroke:0.2px #183547;transform:translate(-50%,-50%) scaleX(.86);">Tier 1</div>
<div class="t" style="left:300px;top:171.65px;font-size:8.4px;color:#183547;-webkit-text-stroke:0.2px #183547;transform:translate(-50%,-50%) scaleX(.92);">0/9</div>
<div class="t" style="left:188.3px;top:206.00px;font-size:10.2px;color:#183547;-webkit-text-stroke:0.25px #183547;transform:translate(-50%,-50%) scaleX(.95);">At Risk</div>
<div class="t" style="left:246px;top:206.25px;font-size:8.4px;color:#183547;-webkit-text-stroke:0.2px #183547;transform:translate(-50%,-50%) scaleX(.86);">Tier 1</div>
<div class="t" style="left:300px;top:206.25px;font-size:8.4px;color:#183547;-webkit-text-stroke:0.2px #183547;transform:translate(-50%,-50%) scaleX(.92);">7/9</div>
<div class="t" style="left:188.3px;top:240.60px;font-size:10.2px;color:#183547;-webkit-text-stroke:0.25px #183547;transform:translate(-50%,-50%) scaleX(.95);">At Risk</div>
<div class="t" style="left:246px;top:240.85px;font-size:8.4px;color:#183547;-webkit-text-stroke:0.2px #183547;transform:translate(-50%,-50%) scaleX(.86);">Tier 2</div>
<div class="t" style="left:300px;top:240.85px;font-size:8.4px;color:#183547;-webkit-text-stroke:0.2px #183547;transform:translate(-50%,-50%) scaleX(.92);">7/9</div>
<div class="t" style="left:188.3px;top:275.20px;font-size:10.2px;color:#183547;-webkit-text-stroke:0.25px #183547;transform:translate(-50%,-50%) scaleX(.95);">On Track</div>
<div class="t" style="left:246px;top:275.45px;font-size:8.4px;color:#183547;-webkit-text-stroke:0.2px #183547;transform:translate(-50%,-50%) scaleX(.86);">Tier 1</div>
<div class="t" style="left:300px;top:275.45px;font-size:8.4px;color:#183547;-webkit-text-stroke:0.2px #183547;transform:translate(-50%,-50%) scaleX(.92);">0/9</div>
<div class="t" style="left:188.3px;top:309.80px;font-size:10.2px;color:#183547;-webkit-text-stroke:0.25px #183547;transform:translate(-50%,-50%) scaleX(.95);">On Track</div>
<div class="t" style="left:246px;top:310.05px;font-size:8.4px;color:#183547;-webkit-text-stroke:0.2px #183547;transform:translate(-50%,-50%) scaleX(.86);">Tier 1</div>
<div class="t" style="left:300px;top:310.05px;font-size:8.4px;color:#183547;-webkit-text-stroke:0.2px #183547;transform:translate(-50%,-50%) scaleX(.92);">0/9</div>
<div class="t" style="left:188.3px;top:344.40px;font-size:10.2px;color:#183547;-webkit-text-stroke:0.25px #183547;transform:translate(-50%,-50%) scaleX(.95);">On Track</div>
<div class="t" style="left:246px;top:344.65px;font-size:8.4px;color:#183547;-webkit-text-stroke:0.2px #183547;transform:translate(-50%,-50%) scaleX(.86);">Tier 1</div>
<div class="t" style="left:300px;top:344.65px;font-size:8.4px;color:#183547;-webkit-text-stroke:0.2px #183547;transform:translate(-50%,-50%) scaleX(.92);">0/9</div>
<div class="t" style="left:188.3px;top:379.00px;font-size:10.2px;color:#183547;-webkit-text-stroke:0.25px #183547;transform:translate(-50%,-50%) scaleX(.95);">On Track</div>
<div class="t" style="left:246px;top:379.25px;font-size:8.4px;color:#183547;-webkit-text-stroke:0.2px #183547;transform:translate(-50%,-50%) scaleX(.86);">Tier 2</div>
<div class="t" style="left:300px;top:379.25px;font-size:8.4px;color:#183547;-webkit-text-stroke:0.2px #183547;transform:translate(-50%,-50%) scaleX(.92);">6/9</div>
<div class="t" style="left:188.3px;top:413.60px;font-size:10.2px;color:#183547;-webkit-text-stroke:0.25px #183547;transform:translate(-50%,-50%) scaleX(.95);">On Track</div>
<div class="t" style="left:246px;top:413.85px;font-size:8.4px;color:#183547;-webkit-text-stroke:0.2px #183547;transform:translate(-50%,-50%) scaleX(.86);">Tier 2</div>
<div class="t" style="left:300px;top:413.85px;font-size:8.4px;color:#183547;-webkit-text-stroke:0.2px #183547;transform:translate(-50%,-50%) scaleX(.92);">2/9</div>
<div class="t" style="left:534.2px;top:250.9px;font-size:9.8px;font-weight:bold;color:#ff8a33;">1</div>
<div class="a" style="left:111.3px;top:174px;width:4.4px;height:3.2px;border-radius:0 0 2.2px 2.2px;background:#4a6270;"></div>
<div class="bar" style="left:8.1px;top:167.3px;width:134px;height:8.5px;"></div>
<div class="nm" style="left:8.8px;top:200.9px;">SG Cloud UI</div>
<div class="bar" style="left:8.1px;top:200.1px;width:134px;height:8.6px;"></div>
<div class="nm" style="left:8.8px;top:234.6px;">Workflow Designer</div>
<div class="bar" style="left:8.1px;top:233.5px;width:134px;height:8.3px;"></div>
<div class="nm" style="right:818.9px;top:263.9px;font-size:10px;letter-spacing:-0.17px;">CCP 2022 Deadlines - Migration</div>
<div class="nm" style="left:33px;top:277.8px;">g</div><div class="nm" style="left:106px;top:277.8px;">g</div>
<div class="bar" style="left:8.1px;top:266.3px;width:134px;height:20.3px;"></div>
<div class="bar" style="left:8.1px;top:298.4px;width:134px;height:21px;"></div>
<div class="nm" style="left:142.4px;top:297.2px;">h</div>
<div class="nm" style="left:8.8px;top:339.3px;letter-spacing:-0.215px;">Upgrade instance types - M4 to R6</div>
<div class="bar" style="left:8.1px;top:343.3px;width:134px;height:8.4px;"></div>
<div class="nm" style="left:8.8px;top:373.8px;">Out of the box U</div>
<div class="bar" style="left:8.1px;top:376.8px;width:134px;height:8px;"></div>
<div class="nm" style="left:66px;top:409.6px;">pg</div>
<div class="bar" style="left:8.1px;top:409.6px;width:134px;height:8px;"></div>
<div class="ln" style="left:821.8px;top:120px;width:1.2px;height:380px;background:#e9efef;"></div>
<div class="tl" style="left:828.4px;top:135.7px;font-size:12.4px;font-weight:bold;color:#163447;transform:translate(0,-50%) scaleX(.93);">Releases</div>
<div class="ln" style="left:828.5px;top:191.80px;width:129px;height:1.2px;"></div>
<div class="ln" style="left:828.5px;top:235.11px;width:129px;height:1.2px;"></div>
<div class="ln" style="left:828.5px;top:278.42px;width:129px;height:1.2px;"></div>
<div class="ln" style="left:828.5px;top:321.73px;width:129px;height:1.2px;"></div>
<div class="ln" style="left:828.5px;top:365.04px;width:129px;height:1.2px;"></div>
<div class="ln" style="left:828.5px;top:408.35px;width:129px;height:1.2px;"></div>
<div class="ln" style="left:828.5px;top:451.66px;width:129px;height:1.2px;"></div>
<div class="ln" style="left:828.5px;top:494.97px;width:129px;height:1.2px;"></div>
<div class="t" style="left:857.3px;top:170.40px;font-size:10.4px;color:#1d3a4b;">2022.02</div>
<div class="t" style="left:857.3px;top:213.40px;font-size:10.4px;color:#66767f;">2022.03</div>
<div class="t" style="left:857.3px;top:256.71px;font-size:10.4px;color:#66767f;">2022.04</div>
<div class="t" style="left:857.3px;top:300.02px;font-size:10.4px;color:#1d3a4b;">2022.05</div>
<div class="t" style="left:857.3px;top:343.33px;font-size:10.4px;color:#66767f;">2022.06</div>
<div class="t" style="left:857.3px;top:386.64px;font-size:10.4px;color:#66767f;">2022.07</div>
<div class="t" style="left:857.3px;top:429.95px;font-size:10.4px;color:#1d3a4b;">2022.08</div>
<div class="t" style="left:857.3px;top:473.26px;font-size:10.4px;color:#66767f;">2022.09</div>
</div></body></html>
